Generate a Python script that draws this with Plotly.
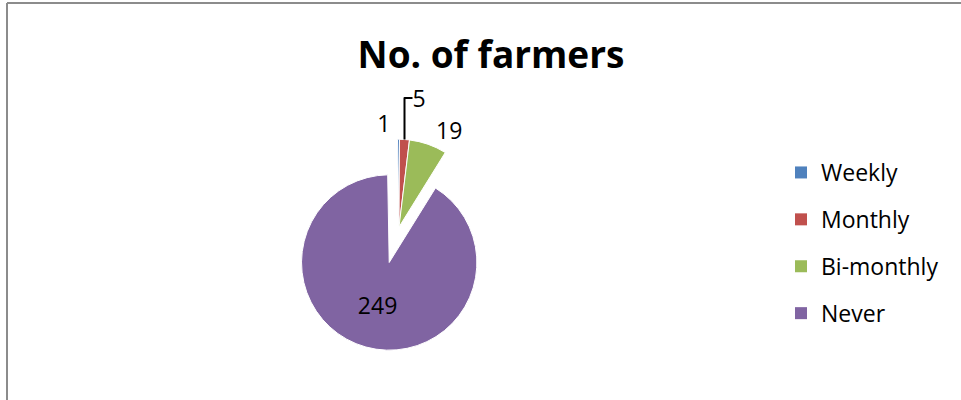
import plotly.graph_objects as go

labels = ["Weekly", "Monthly", "Bi-monthly", "Never"]
values = [1, 5, 19, 249]
colors = ["#4F81BD", "#C0504D", "#9BBB59", "#8064A2"]
pulls = [0, 0, 0, 0.42]
text_pos = ["outside", "outside", "outside", "inside"]
title_text = "No. of farmers"

FONT = "Open Sans"
W, H = 961, 400

# pie geometry (screen px): centre of un-pulled slices and half-size of domain
CX, CY, HALF = 399, 227, 124.5

fig = go.Figure()
fig.add_trace(go.Pie(
    labels=labels, values=values, sort=False, direction="clockwise", rotation=-1,
    marker=dict(colors=colors, line=dict(color="white", width=1)),
    pull=pulls, textinfo="value", textposition=text_pos,
    insidetextorientation="horizontal",
    textfont=dict(family=FONT, size=23, color="black"),
    domain=dict(x=[(CX - HALF) / W, (CX + HALF) / W],
                y=[(H - CY - HALF) / H, (H - CY + HALF) / H]),
    showlegend=False, hoverinfo="label+value",
))
for lab, col in zip(labels, colors):
    fig.add_trace(go.Scatter(
        x=[None], y=[None], mode="markers", name=lab, legendgroup=lab,
        marker=dict(symbol="square", size=12, color=col),
    ))

fig.update_layout(
    width=W, height=H,
    margin=dict(l=0, r=0, t=0, b=0, autoexpand=False),
    paper_bgcolor="white", plot_bgcolor="white",
    xaxis=dict(visible=False), yaxis=dict(visible=False),
    title=dict(text="<b>" + title_text + "</b>", x=491 / W, xanchor="center",
               y=1 - 55 / H, yanchor="middle", yref="paper", xref="paper",
               font=dict(family=FONT, size=37, color="black")),
    legend=dict(x=781 / W, xanchor="left", y=1 - 151 / H, yanchor="top",
                font=dict(family=FONT, size=23, color="black"),
                tracegroupgap=14, bgcolor="rgba(0,0,0,0)"),
    shapes=[
        dict(type="line", xref="paper", yref="paper", x0=7 / W, x1=1.0,
             y0=1 - 3 / H, y1=1 - 3 / H, line=dict(color="#8c8c8c", width=2)),
        dict(type="line", xref="paper", yref="paper", x0=7 / W, x1=7 / W,
             y0=0, y1=1 - 3 / H, line=dict(color="#8c8c8c", width=2)),
    ],
)

fig.write_html(
    "out.html",
    config={"displayModeBar": False},
    post_script="document.body.style.margin='0';document.body.style.overflow='hidden';",
)
